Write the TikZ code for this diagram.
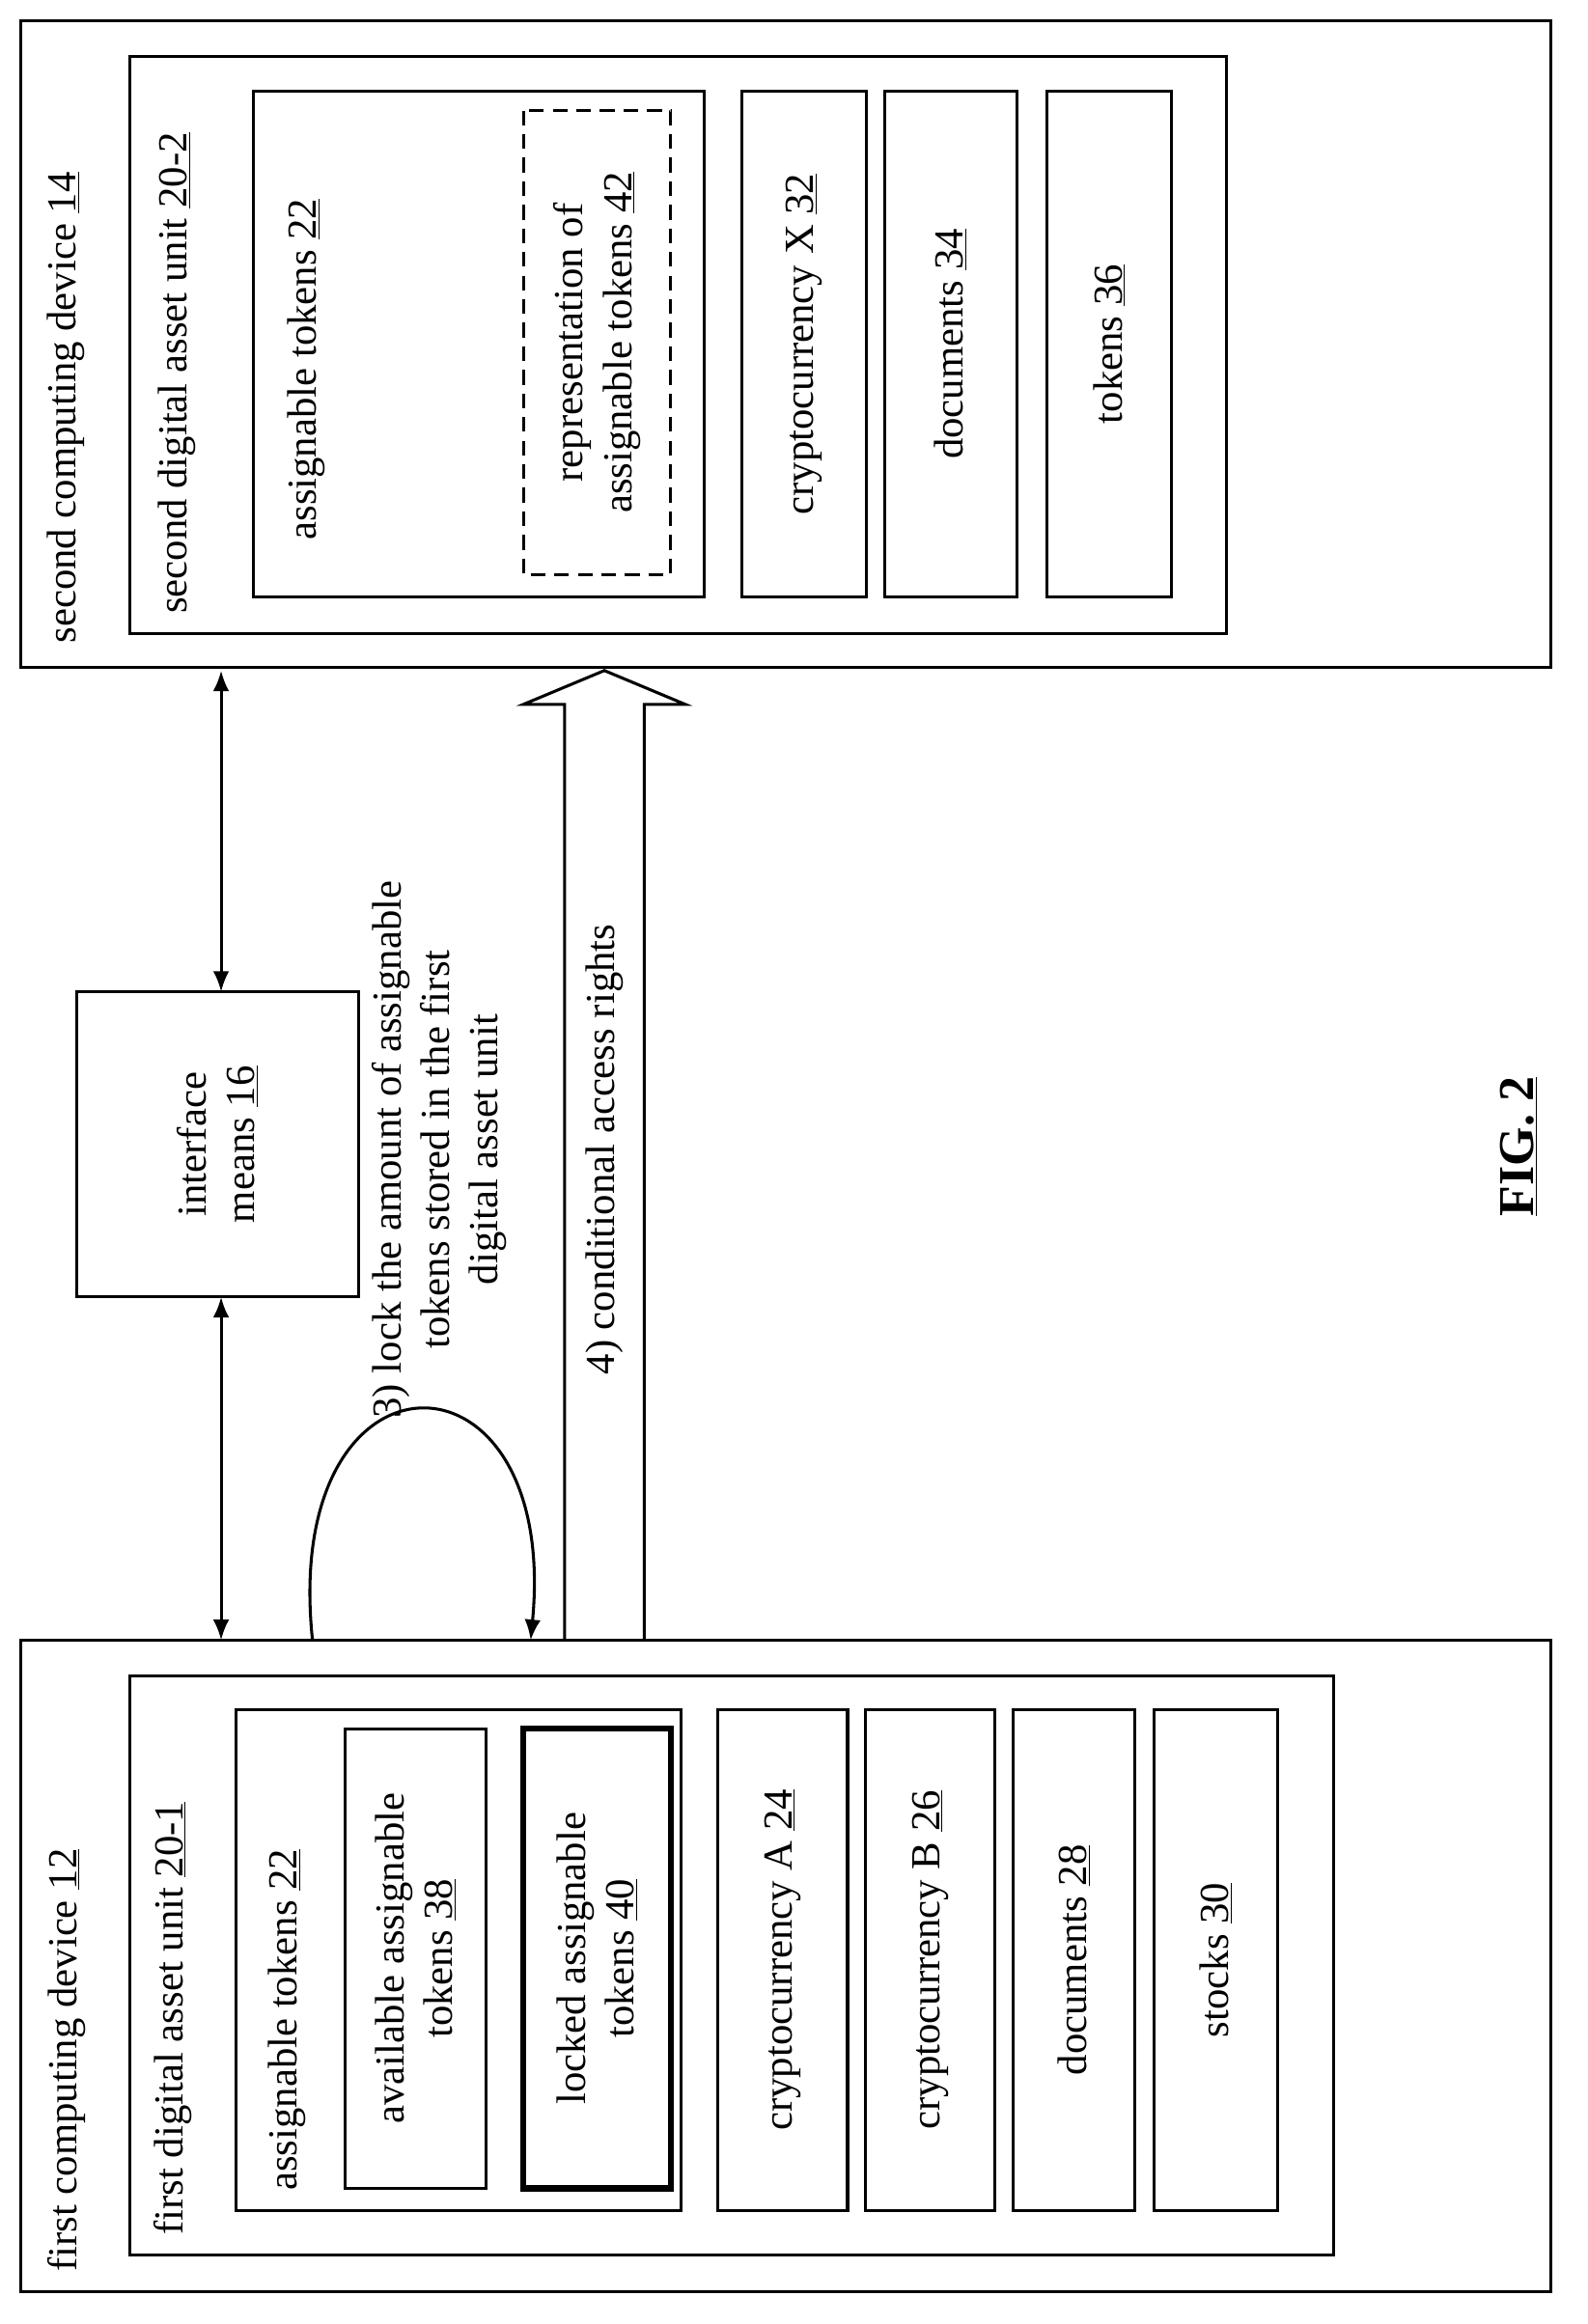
\documentclass[tikz,border=0pt]{standalone}
\usepackage{fontspec}
\setmainfont{Liberation Serif}
\usetikzlibrary{arrows.meta}
\begin{document}
\begin{tikzpicture}[x=1pt,y=-1pt,
 bx/.style={draw,line width=2pt},
 lb/.style={rotate=90,font=\fontsize{28}{33}\selectfont},
 ar/.style={line width=2pt,{Latex[length=14pt,width=11pt]}-{Latex[length=14pt,width=11pt]}}]
\useasboundingbox (0,0) rectangle (1077,1577);
% first device
\node[bx,minimum width=1038pt,minimum height=442pt] (fcd) at (533,1334) {};
\node[lb,anchor=west] (fcdl) at (45,1545) {first computing device \underline{12}};
\node[bx,minimum width=817pt,minimum height=393pt] (fdu) at (496.5,1333.5) {};
\node[lb,anchor=west] (fdul) at (117,1520) {first digital asset unit \underline{20-1}};
\node[bx,minimum width=302pt,minimum height=340pt] (at1) at (311,1330) {};
\node[lb,anchor=west] (at1l) at (195,1490) {assignable tokens \underline{22}};
\node[bx,minimum width=312pt,minimum height=96pt,align=center,lb] (avl) at (282,1329) {available assignable\\tokens \underline{38}};
\node[draw,line width=4pt,minimum width=312pt,minimum height=100pt,align=center,lb] (lck) at (405,1329) {locked assignable\\tokens \underline{40}};
\node[bx,lb,minimum width=340pt,minimum height=88pt] (ca) at (531,1330) {cryptocurrency A \underline{24}};
\node[bx,lb,minimum width=340pt,minimum height=88pt] (cb) at (631,1330) {cryptocurrency B \underline{26}};
\node[bx,lb,minimum width=340pt,minimum height=83pt] (d28) at (728.5,1330) {documents \underline{28}};
\node[bx,lb,minimum width=340pt,minimum height=84pt] (st) at (825,1330) {stocks \underline{30}};
% second device
\node[bx,minimum width=1038pt,minimum height=439pt] (scd) at (533,233.5) {};
\node[lb,anchor=west] (scdl) at (45,440) {second computing device \underline{14}};
\node[bx,minimum width=744pt,minimum height=392pt] (sdu) at (460,234) {};
\node[lb,anchor=west] (sdul) at (120,420) {second digital asset unit \underline{20-2}};
\node[bx,minimum width=306pt,minimum height=343pt] (at2) at (325,233.5) {};
\node[lb,anchor=west] (at2l) at (208,370) {assignable tokens \underline{22}};
\node[draw,line width=2pt,dash pattern=on 10pt off 6pt,minimum width=315pt,minimum height=100pt,align=center,lb] (rep) at (405,232.5) {representation of\\assignable tokens \underline{42}};
\node[bx,lb,minimum width=343pt,minimum height=85pt] (cx) at (545.5,233.5) {cryptocurrency X \underline{32}};
\node[bx,lb,minimum width=343pt,minimum height=90pt] (d34) at (645,233.5) {documents \underline{34}};
\node[bx,lb,minimum width=343pt,minimum height=85pt] (t36) at (752.5,233.5) {tokens \underline{36}};
% interface
\node[bx,minimum width=207pt,minimum height=191pt,align=center,lb] (ifm) at (147.5,776.5) {interface\\means \underline{16}};
\coordinate (a1) at (150,455); \coordinate (a2) at (150,673);
\coordinate (a3) at (150,880); \coordinate (a4) at (150,1113);
\draw[ar] (a1) -- (a2);
\draw[ar] (a3) -- (a4);
% loop
\coordinate (l1) at (212,1113); \coordinate (l2) at (360,1113);
\draw[line width=2pt,-{Latex[length=14pt,width=11pt]}] (l1) .. controls (190,905) and (380,905) .. (l2);
\node[lb,align=center] (lockl) at (298,780) {3) lock the amount of assignable\\tokens stored in the first\\digital asset unit};
% big arrow
\coordinate (b1) at (383,1113); \coordinate (b2) at (437,1113);
\coordinate (tip) at (410,455);
\draw[line width=2pt] (b1) -- (383,478) -- (355,478) -- (tip) -- (465,478) -- (437,478) -- (b2);
\node[lb] (cond) at (410,780) {4) conditional access rights};
\node[rotate=90,font=\bfseries\fontsize{34}{40}\selectfont] (fig) at (1030,778) {\underline{FIG. 2}};
\end{tikzpicture}
\end{document}
